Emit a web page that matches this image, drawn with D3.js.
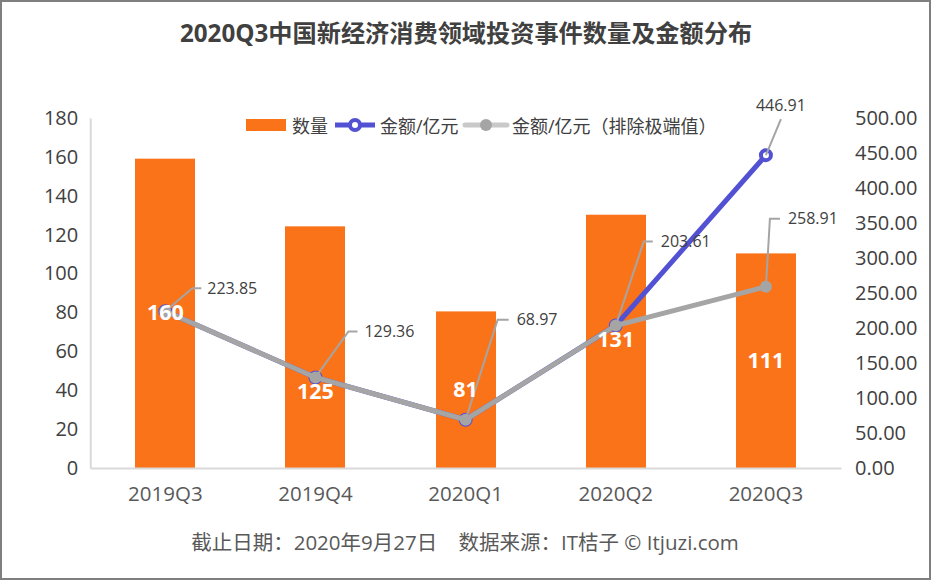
<!DOCTYPE html>
<html>
<head>
<meta charset="utf-8">
<script src="https://cdn.jsdelivr.net/npm/d3@7"></script>
<style>
html, body { margin: 0; padding: 0; background: #fff; }
text { font-family: "Open Sans", "Noto Sans CJK SC", sans-serif; }
</style>
</head>
<body>
<svg id="chart"></svg>
<script>
// data
var quarters = ["2019Q3", "2019Q4", "2020Q1", "2020Q2", "2020Q3"];
var counts = [160, 125, 81, 131, 111];
var amounts = [223.85, 129.36, 68.97, 203.61, 446.91];
var amountsTrimmed = [223.85, 129.36, 68.97, 203.61, 258.91];
var leftTicks = [0, 20, 40, 60, 80, 100, 120, 140, 160, 180];
var rightTicks = [0, 50, 100, 150, 200, 250, 300, 350, 400, 450, 500];

var w = 931, h = 580;
var margin = {top: 118, bottom: 112, left: 90.25, right: 90};
var orange = "#FB7318", blue = "#5351D3", grey = "#A5A5A5", textColor = "#404040";

var svg = d3.select("#chart").attr("width", w).attr("height", h).style("display", "block");

svg.append("rect").attr("x", 1).attr("y", 1).attr("width", w - 2).attr("height", h - 2)
   .attr("fill", "#fff").attr("stroke", "#7F7F7F").attr("stroke-width", 2);

var x = d3.scaleBand().domain(quarters).range([margin.left, w - margin.right]);
var yLeft = d3.scaleLinear().domain([0, 180]).range([h - margin.bottom, margin.top]);
var yRight = d3.scaleLinear().domain([0, 500]).range([h - margin.bottom, margin.top]);
// bars sit a touch lower than the tick labels in the source
var yBar = d3.scaleLinear().domain([0, 180]).range([h - margin.bottom, margin.top + 2]);
var cx = function(i){ return x(quarters[i]) + x.bandwidth() / 2; };

// title and footer
svg.append("text").attr("x", 466).attr("y", 42).attr("text-anchor", "middle")
   .attr("font-size", 24.2).attr("font-weight", 700).attr("fill", textColor)
   .text("2020Q3中国新经济消费领域投资事件数量及金额分布");
svg.append("text").attr("x", 465).attr("y", 550).attr("text-anchor", "middle")
   .attr("font-size", 20.5).attr("fill", "#595959").attr("xml:space", "preserve")
   .text("截止日期：2020年9月27日    数据来源：IT桔子 © Itjuzi.com");

// axes
function styleAxis(g) {
  g.selectAll("path").attr("stroke", "#D9D9D9").attr("stroke-width", 2);
  g.selectAll("line").remove();
  g.selectAll("text").attr("fill", textColor).attr("font-size", 20)
    .style("font-family", '"Open Sans", "Noto Sans CJK SC", sans-serif');
}
var baseY = h - margin.bottom;
svg.append("g").attr("transform", "translate(" + margin.left + ",0)")
   .call(d3.axisLeft(yLeft).tickValues(leftTicks).tickSize(0).tickPadding(12))
   .call(styleAxis);
svg.append("g").attr("transform", "translate(" + (w - margin.right) + ",0)")
   .call(d3.axisRight(yRight).tickValues(rightTicks).tickSize(0).tickPadding(14)
         .tickFormat(d3.format(".2f")))
   .call(styleAxis)
   .call(function(g){ g.select("path").remove(); });

// bars
svg.selectAll(".bar").data(counts).enter().append("rect")
   .attr("class", "bar")
   .attr("x", function(d, i){ return Math.round(cx(i) - 30); })
   .attr("width", 60)
   .attr("y", function(d){ return yBar(d); })
   .attr("height", function(d){ return baseY - yBar(d); })
   .attr("fill", orange);

svg.append("g").attr("transform", "translate(0," + baseY + ")")
   .call(d3.axisBottom(x).tickSize(0).tickPadding(18))
   .call(styleAxis)
   .call(function(g){ g.selectAll("text").attr("font-size", 20.5).attr("fill", "#595959"); });

// lines
var line = d3.line().x(function(d, i){ return cx(i); }).y(function(d){ return yRight(d); });
svg.append("path").datum(amounts).attr("d", line).attr("fill", "none")
   .attr("stroke", blue).attr("stroke-width", 5).attr("stroke-linecap", "round");
svg.selectAll(".dotA").data(amounts).enter().append("circle")
   .attr("class", "dotA")
   .attr("cx", function(d, i){ return cx(i); }).attr("cy", function(d){ return yRight(d); })
   .attr("r", 5).attr("fill", "#fff").attr("stroke", blue).attr("stroke-width", 4);
svg.append("path").datum(amountsTrimmed).attr("d", line).attr("fill", "none")
   .attr("stroke", grey).attr("stroke-width", 5).attr("stroke-linecap", "round");
svg.selectAll(".dotB").data(amountsTrimmed).enter().append("circle")
   .attr("class", "dotB")
   .attr("cx", function(d, i){ return cx(i); }).attr("cy", function(d){ return yRight(d); })
   .attr("r", 6).attr("fill", grey);

// leader lines and value labels, offsets from the point
var leaders = [
  {i: 0, v: 223.85, ex: 27, ey: -23, hx: 36, lx: 42, ly: -23},
  {i: 1, v: 129.36, ex: 33, ey: -46, hx: 42, lx: 49, ly: -46},
  {i: 2, v: 68.97, ex: 32, ey: -100, hx: 43, lx: 51, ly: -100},
  {i: 3, v: 203.61, ex: 28, ey: -84, hx: 37, lx: 45, ly: -84},
  {i: 4, v: 446.91, ex: 15, ey: -36, hx: 15, lx: -10, ly: -50},
  {i: 4, v: 258.91, ex: 4, ey: -68, hx: 14, lx: 22, ly: -68}
];
leaders.forEach(function(d){
  var px = cx(d.i), py = yRight(d.v);
  svg.append("path")
     .attr("d", d3.line()([[px, py], [px + d.ex, py + d.ey], [px + d.hx, py + d.ey]]))
     .attr("fill", "none").attr("stroke", grey).attr("stroke-width", 2);
  svg.append("text").attr("x", px + d.lx).attr("y", py + d.ly + 5.5)
     .attr("font-size", 16).attr("fill", textColor).text(d.v.toFixed(2));
});

// count labels
var countLabelY = [320, 399, 397, 347, 368];
svg.selectAll(".count").data(counts).enter().append("text")
   .attr("class", "count")
   .attr("x", function(d, i){ return cx(i); })
   .attr("y", function(d, i){ return countLabelY[i]; })
   .attr("text-anchor", "middle").attr("font-size", 21.5).attr("font-weight", 700)
   .attr("fill", "#fff").text(function(d){ return d; });

// legend
var legend = svg.append("g");
legend.append("rect").attr("x", 246).attr("y", 119).attr("width", 40).attr("height", 12).attr("fill", orange);
legend.append("text").attr("x", 292).attr("y", 132.5).attr("font-size", 18).attr("fill", textColor).text("数量");
legend.append("line").attr("x1", 335).attr("x2", 375).attr("y1", 125).attr("y2", 125).attr("stroke", blue).attr("stroke-width", 5);
legend.append("circle").attr("cx", 355).attr("cy", 125).attr("r", 5).attr("fill", "#fff").attr("stroke", blue).attr("stroke-width", 4);
legend.append("text").attr("x", 380).attr("y", 132.5).attr("font-size", 18).attr("fill", textColor).text("金额/亿元");
legend.append("line").attr("x1", 465).attr("x2", 507).attr("y1", 125).attr("y2", 125).attr("stroke", grey).attr("stroke-width", 5).attr("stroke-linecap", "round").attr("stroke-opacity", 0.6);
legend.append("circle").attr("cx", 486).attr("cy", 125).attr("r", 6).attr("fill", grey);
legend.append("text").attr("x", 512).attr("y", 132.5).attr("font-size", 18).attr("fill", textColor).text("金额/亿元（排除极端值）");
</script>
</body>
</html>
